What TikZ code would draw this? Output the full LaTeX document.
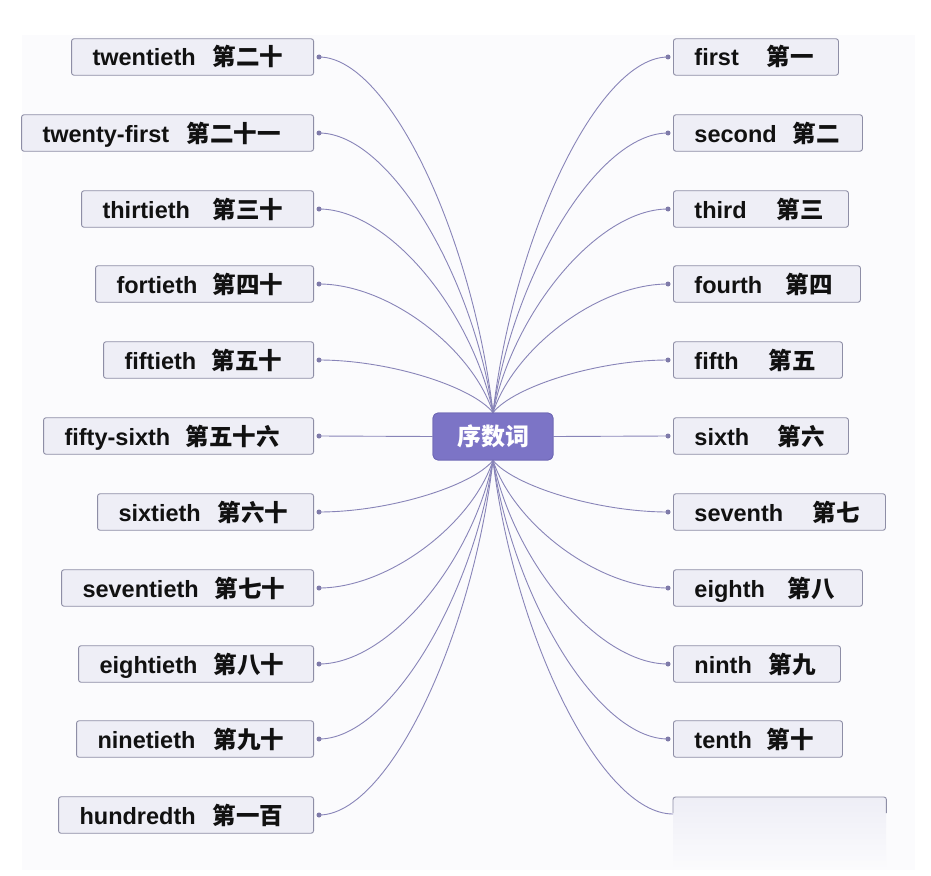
\documentclass[tikz,border=0pt]{standalone}
\usepackage{fontspec}
\setmainfont{Liberation Sans}
\newfontfamily\cjk{Noto Sans CJK SC}
\usetikzlibrary{calc}
\definecolor{boxfill}{HTML}{EEEEF6}
\definecolor{boxline}{HTML}{8E8EA6}
\definecolor{linkc}{HTML}{8884B8}
\definecolor{dotc}{HTML}{7E7AA8}
\definecolor{hubfill}{HTML}{7C74C6}
\definecolor{hubline}{HTML}{6E67B4}
\definecolor{txt}{HTML}{111111}
\definecolor{bgc}{HTML}{FBFBFD}
\newcommand\lbl[4]{\makebox[#1][l]{\hspace{21pt}\makebox[#2][l]{#3}{\cjk #4}}}
\newcommand\curvelink[2]{\draw[link] let \p1=(#1), \p2=(#2) in (\p1) .. controls ({\x1+0.4*(\x2-\x1)},\y1) and ({\x2-0.12*(\x2-\x1)},{\y2-0.5*(\y2-\y1)}) .. (\p2);}
\tikzset{
  box/.style={draw=boxline, fill=boxfill, line width=0.9pt, rounded corners=2.5pt,
    inner xsep=0pt, inner ysep=0pt, minimum height=36.5pt, text height=18pt, text depth=0pt,
    font=\fontsize{23.5}{26}\bfseries\selectfont, text=txt},
  hub/.style={draw=hubline, fill=hubfill, line width=0.8pt, rounded corners=5pt,
    minimum width=120pt, minimum height=47pt, inner sep=0pt, text=white,
    font=\cjk\fontsize{24}{26}\bfseries\selectfont},
  link/.style={draw=linkc, line width=0.9pt},
  linkdot/.style={circle, fill=dotc, inner sep=0pt, minimum size=5pt},
}
\begin{document}
\begin{tikzpicture}[x=1pt,y=-1pt]
\useasboundingbox (0,0) rectangle (931,875);
\fill[white] (0,0) rectangle (931,875);
\fill[bgc] (22,35) rectangle (915,870);

% hub
\node[hub] (hub) at (493,436.5) {序数词};

% left column
\node[box, anchor=east] (L1)  at (314,57)  {\lbl{242pt}{120pt}{twentieth}{第二十}};
\node[box, anchor=east] (L2)  at (314,133) {\lbl{292pt}{144pt}{twenty-first}{第二十一}};
\node[box, anchor=east] (L3)  at (314,209) {\lbl{232pt}{110pt}{thirtieth}{第三十}};
\node[box, anchor=east] (L4)  at (314,284) {\lbl{218pt}{96pt}{fortieth}{第四十}};
\node[box, anchor=east] (L5)  at (314,360) {\lbl{210pt}{87pt}{fiftieth}{第五十}};
\node[box, anchor=east] (L6)  at (314,436) {\lbl{270pt}{121pt}{fifty-sixth}{第五十六}};
\node[box, anchor=east] (L7)  at (314,512) {\lbl{216pt}{99pt}{sixtieth}{第六十}};
\node[box, anchor=east] (L8)  at (314,588) {\lbl{252pt}{132pt}{seventieth}{第七十}};
\node[box, anchor=east] (L9)  at (314,664) {\lbl{235pt}{114pt}{eightieth}{第八十}};
\node[box, anchor=east] (L10) at (314,739) {\lbl{237pt}{116pt}{ninetieth}{第九十}};
\node[box, anchor=east] (L11) at (314,815) {\lbl{255pt}{133pt}{hundredth}{第一百}};

% right column
\node[box, anchor=west] (R1)  at (673,57)  {\lbl{165pt}{72.5pt}{first}{第一}};
\node[box, anchor=west] (R2)  at (673,133) {\lbl{189pt}{98.5pt}{second}{第二}};
\node[box, anchor=west] (R3)  at (673,209) {\lbl{175pt}{82.5pt}{third}{第三}};
\node[box, anchor=west] (R4)  at (673,284) {\lbl{187pt}{91.5pt}{fourth}{第四}};
\node[box, anchor=west] (R5)  at (673,360) {\lbl{169pt}{74.5pt}{fifth}{第五}};
\node[box, anchor=west] (R6)  at (673,436) {\lbl{175pt}{83.5pt}{sixth}{第六}};
\node[box, anchor=west] (R7)  at (673,512) {\lbl{212pt}{118.5pt}{seventh}{第七}};
\node[box, anchor=west] (R8)  at (673,588) {\lbl{189pt}{93.5pt}{eighth}{第八}};
\node[box, anchor=west] (R9)  at (673,664) {\lbl{167pt}{74.5pt}{ninth}{第九}};
\node[box, anchor=west] (R10) at (673,739) {\lbl{169pt}{72.5pt}{tenth}{第十}};

% faded blank box
\node[anchor=north west, minimum width=213pt, minimum height=72pt, inner sep=0pt,
      top color=boxfill, bottom color=bgc] (R11) at (673,797) {};
\draw[boxline, line width=0.9pt, rounded corners=2.5pt]
  ($(R11.north west)+(0,16)$) -- (R11.north west) -- (R11.north east) -- ($(R11.north east)+(0,16)$);
\coordinate (dR11) at ($(R11.north west)+(0,17)$);

% dots
\foreach \i in {1,...,11} {
  \coordinate (dL\i) at ($(L\i.east)+(5,0)$);
  \node[linkdot] at (dL\i) {};
}
\foreach \i in {1,...,10} {
  \coordinate (dR\i) at ($(R\i.west)+(-5,0)$);
  \node[linkdot] at (dR\i) {};
}

% connectors
\foreach \i in {1,...,5} {
  \curvelink{dL\i}{hub.north}
  \curvelink{dR\i}{hub.north}
}
\foreach \i in {7,...,11} {
  \curvelink{dL\i}{hub.south}
}
\foreach \i in {7,...,10} {
  \curvelink{dR\i}{hub.south}
}
\curvelink{dR11}{hub.south}
\draw[link] (dL6) -- (hub.west);
\draw[link] (hub.east) -- (dR6);

% redraw hub on top
\node[hub] at (hub.center) {序数词};
\end{tikzpicture}
\end{document}
